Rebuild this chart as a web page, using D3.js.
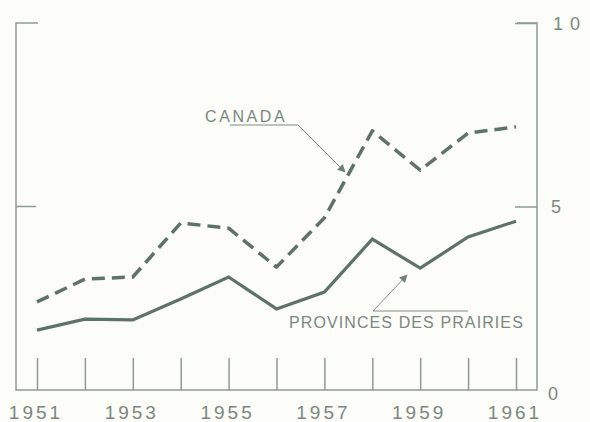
<!DOCTYPE html>
<html>
<head>
<meta charset="utf-8">
<script src="https://cdn.jsdelivr.net/npm/d3@7"></script>
<style>
  body { margin: 0; background: #fcfcf8; }
  svg { display: block; }
  text { font-family: "Liberation Sans", Arial, sans-serif; fill: #7b8880; }
</style>
</head>
<body>
<svg id="chart" width="590" height="422"></svg>
<script>
// data
var years = [1951, 1952, 1953, 1954, 1955, 1956, 1957, 1958, 1959, 1960, 1961];
var canada = [2.40, 3.02, 3.08, 4.55, 4.41, 3.35, 4.69, 7.06, 5.99, 7.00, 7.17];
var prairies = [1.63, 1.93, 1.91, 2.48, 3.08, 2.21, 2.67, 4.11, 3.32, 4.17, 4.60];
var yearLabels = [1951, 1953, 1955, 1957, 1959, 1961];
var yTicks = [0, 5, 10];

var svg = d3.select("#chart");
var lineColor = "#5d7365";
var axisColor = "#8e9b93";

// plot frame (window.top is reserved, so use other names)
var pLeft = 16, pRight = 537, pTop = 23, pBottom = 390;

var x = d3.scaleLinear().domain([1951, 1961]).range([37, 516]);
var y = d3.scaleLinear().domain([0, 10]).range([pBottom, pTop]);

// frame: left bracket, right axis, baseline
svg.append("path")
    .attr("d", "M" + (pLeft + 22) + "," + y(10) + "H" + pLeft + "V" + pBottom + "H" + pRight + "V" + y(10) + "H" + (pRight - 20))
    .attr("fill", "none")
    .attr("stroke", axisColor)
    .attr("stroke-width", 1.5);

// left tick at 5
svg.append("line")
    .attr("x1", pLeft).attr("x2", pLeft + 20)
    .attr("y1", y(5)).attr("y2", y(5))
    .attr("stroke", axisColor).attr("stroke-width", 1.5);

// right axis ticks + labels
var yAxis = d3.axisRight(y)
    .tickValues(yTicks)
    .tickSize(-22)
    .tickFormat(function(d) { return d == 10 ? "1 0" : d; });

var ya = svg.append("g")
    .attr("transform", "translate(" + pRight + ",0)")
    .call(yAxis);
ya.select(".domain").remove();
ya.selectAll(".tick line")
    .attr("stroke", axisColor).attr("stroke-width", 1.5)
    .filter(function(d) { return d == 0; }).remove();
ya.selectAll(".tick text")
    .attr("x", function(d) { return d == 0 ? 11 : d == 5 ? 14 : 16; })
    .style("font-size", "18px")
    .style("letter-spacing", "1px")
    .attr("fill", "#7b8880")
    .attr("font-family", null)
    .attr("text-anchor", "start")
    .attr("dy", function(d) { return d == 0 ? "0.55em" : "0.35em"; });

// bottom ticks
var xAxis = d3.axisBottom(x)
    .tickValues(years)
    .tickSize(-32)
    .tickFormat("");
var xa = svg.append("g")
    .attr("transform", "translate(0," + pBottom + ")")
    .call(xAxis);
xa.select(".domain").remove();
xa.selectAll(".tick line").attr("stroke", axisColor).attr("stroke-width", 1.5);

// year labels
svg.selectAll(".yl")
    .data(yearLabels)
    .enter().append("text")
    .attr("class", "yl")
    .attr("x", function(d) { return x(d) - 1; })
    .attr("y", 419)
    .attr("text-anchor", "middle")
    .style("font-size", "19px")
    .style("letter-spacing", "3px")
    .text(function(d) { return d; });

var line = d3.line()
    .x(function(d, i) { return x(years[i]); })
    .y(function(d) { return y(d); });

svg.append("path")
    .datum(canada)
    .attr("d", line)
    .attr("fill", "none")
    .attr("stroke", lineColor)
    .attr("stroke-width", 3.5)
    .attr("stroke-dasharray", "13,7")
    .attr("stroke-linejoin", "round");

svg.append("path")
    .datum(prairies)
    .attr("d", line)
    .attr("fill", "none")
    .attr("stroke", lineColor)
    .attr("stroke-width", 3.2)
    .attr("stroke-linejoin", "miter");

// arrow marker
svg.append("defs").append("marker")
    .attr("id", "arrow")
    .attr("viewBox", "0 0 10 10")
    .attr("refX", 9).attr("refY", 5)
    .attr("markerWidth", 10).attr("markerHeight", 8)
    .attr("markerUnits", "userSpaceOnUse")
    .attr("orient", "auto")
    .append("path")
    .attr("d", "M0,0L10,5L0,10Z")
    .attr("fill", "#6f8076");

// CANADA label
svg.append("text")
    .attr("x", 205).attr("y", 122)
    .style("font-size", "16px")
    .style("letter-spacing", "2.6px")
    .text("CANADA");
svg.append("path")
    .attr("d", "M230,125H298L345,172")
    .attr("fill", "none")
    .attr("stroke", "#7f8d85")
    .attr("stroke-width", 1)
    .attr("marker-end", "url(#arrow)");

// prairies label
svg.append("text")
    .attr("x", 289).attr("y", 328)
    .style("font-size", "16px")
    .style("letter-spacing", "1.1px")
    .text("PROVINCES DES PRAIRIES");
svg.append("path")
    .attr("d", "M468,311H373L407,275")
    .attr("fill", "none")
    .attr("stroke", "#7f8d85")
    .attr("stroke-width", 1)
    .attr("marker-end", "url(#arrow)");
</script>
</body>
</html>
